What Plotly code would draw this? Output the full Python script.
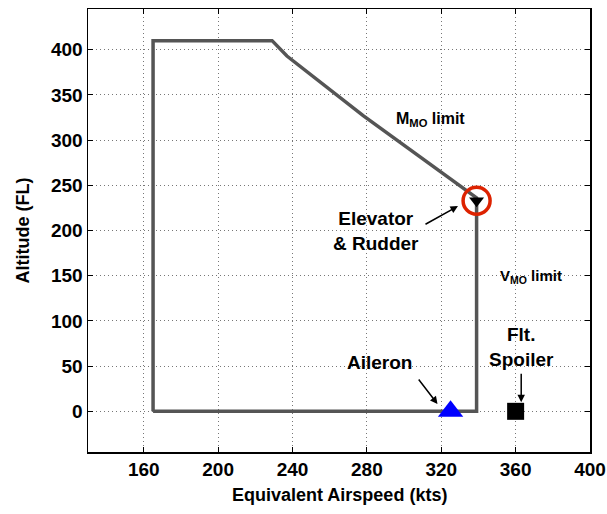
import plotly.graph_objects as go

# Flight envelope (EAS in kts, altitude in FL)
env_x = [165, 165, 229, 237, 278, 310, 339, 339, 165]
env_y = [0, 410, 410, 393, 327, 279, 236, 0, 0]

aileron_x = [325]
aileron_y = [0]
spoiler_x = [360]
spoiler_y = [0]
elev_x = [339]
elev_y = [233]

x_ticks = [160, 200, 240, 280, 320, 360, 400]
y_ticks = [0, 50, 100, 150, 200, 250, 300, 350, 400]

FONT = "Liberation Sans"

fig = go.Figure()
fig.add_trace(go.Scatter(x=env_x, y=env_y, mode="lines",
                         line=dict(color="#555555", width=3.5), showlegend=False))
fig.add_trace(go.Scatter(x=aileron_x, y=aileron_y, mode="markers",
                         marker=dict(symbol="triangle-up", size=22, color="#0000ff"),
                         showlegend=False, cliponaxis=False))
fig.add_trace(go.Scatter(x=spoiler_x, y=spoiler_y, mode="markers",
                         marker=dict(symbol="square", size=17, color="#000000"),
                         showlegend=False))
fig.add_trace(go.Scatter(x=elev_x, y=elev_y, mode="markers",
                         marker=dict(symbol="circle-open", size=27, color="#dd2200",
                                     line=dict(color="#dd2200", width=3.5)),
                         showlegend=False))
fig.add_trace(go.Scatter(x=elev_x, y=elev_y, mode="markers",
                         marker=dict(symbol="triangle-down", size=13, color="#000000"),
                         showlegend=False))

ann_font = dict(family=FONT, size=19, color="#000000")
mmo_font = dict(family=FONT, size=16, color="#000000")
vmo_font = dict(family=FONT, size=15, color="#000000")
title_font = dict(family=FONT, size=18, color="#000000")

fig.add_annotation(x=285, y=199, text="<b>Elevator<br>& Rudder</b>", showarrow=False,
                   font=ann_font, align="center")
fig.add_annotation(x=329, y=227, ax=-34, ay=19, text="", showarrow=True,
                   arrowhead=2, arrowsize=1, arrowwidth=1.5, arrowcolor="#000000")
fig.add_annotation(x=287, y=54, text="<b>Aileron</b>", showarrow=False, font=ann_font)
fig.add_annotation(x=318, y=8, ax=-20, ay=-26, text="", showarrow=True,
                   arrowhead=2, arrowsize=1, arrowwidth=1.5, arrowcolor="#000000")
fig.add_annotation(x=363, y=71, text="<b>Flt.<br>Spoiler</b>", showarrow=False,
                   font=ann_font, align="center")
fig.add_annotation(x=363, y=10, ax=0, ay=-30, text="", showarrow=True,
                   arrowhead=2, arrowsize=1, arrowwidth=1.5, arrowcolor="#000000")
fig.add_annotation(x=368, y=149, text="<b>V<sub>MO</sub> limit</b>", showarrow=False,
                   font=vmo_font)
fig.add_annotation(x=314, y=323, text="<b>M<sub>MO</sub> limit</b>", showarrow=False,
                   font=mmo_font)

# axis titles placed as paper annotations
fig.add_annotation(xref="paper", yref="paper", x=0.5, y=0, yanchor="middle",
                   yshift=-43, text="<b>Equivalent Airspeed (kts)</b>",
                   showarrow=False, font=title_font)
fig.add_annotation(xref="paper", yref="paper", x=0, y=0.5, xanchor="center",
                   xshift=-66, textangle=-90, text="<b>Altitude (FL)</b>",
                   showarrow=False, font=title_font)

axis_common = dict(showline=True, linecolor="#000000", linewidth=1.5, mirror="ticks",
                   ticks="inside", ticklen=5, tickcolor="#000000",
                   showgrid=True, gridcolor="#777777", griddash="1px,3px", gridwidth=1,
                   zeroline=False, automargin=False,
                   tickfont=dict(family=FONT, size=19, color="#000000", weight="bold"))

fig.update_xaxes(range=[130, 400], tickvals=x_ticks, **axis_common)
fig.update_yaxes(range=[-45, 445], tickvals=y_ticks, **axis_common)

fig.update_layout(width=607, height=514, margin=dict(l=88, r=17, t=9, b=62),
                  plot_bgcolor="#ffffff", paper_bgcolor="#ffffff",
                  font=dict(family=FONT), hovermode=False)

# remove the default page body margin so the figure fills the window exactly
fig.write_html("out.html",
               config={"displayModeBar": False, "staticPlot": True},
               post_script="document.body.style.margin='0';document.body.style.overflow='hidden';")
